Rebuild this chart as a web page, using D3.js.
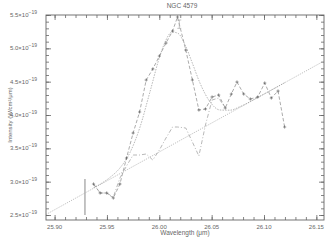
<!DOCTYPE html>
<meta charset="utf-8">
<script src="https://d3js.org/d3.v7.min.js"></script>
<style>
  body { margin: 0; background: #fff; }
  text { font-family: "Liberation Sans", sans-serif; fill: #666; }
</style>
<body>
<div id="chart"></div>
<script>

// wavelength (um) of the measured points
var wave = [25.9372, 25.9435, 25.9498, 25.9561, 25.9624, 25.9687, 25.9750, 25.9812,
            25.9875, 25.9938, 26.0001, 26.0064, 26.0127, 26.0174, 26.0253, 26.0316,
            26.0378, 26.0441, 26.0504, 26.0567, 26.0630, 26.0688, 26.0742, 26.0806,
            26.0869, 26.0940, 26.1007, 26.1070, 26.1134, 26.1197];
// observed intensity (x 1e-19 W/cm2/um)
var flux = [2.965, 2.83, 2.83, 2.755, 2.965, 3.355, 3.73, 4.045,
            4.525, 4.69, 4.885, 5.08, 5.26, 5.47, 4.975, 4.525,
            4.075, 4.09, 4.27, 4.30, 4.105, 4.315, 4.495, 4.315,
            4.24, 4.27, 4.48, 4.255, 4.36, 3.82];

// residual (data - line) on top of the continuum
var residWave = [25.9372, 25.9435, 25.9498, 25.9561, 25.9624, 25.9687, 25.9750, 25.9812,
                 25.9875, 25.9938, 26.0001, 26.0064, 26.0127, 26.0174, 26.0253, 26.0316,
                 26.0378, 26.0441, 26.0504, 26.0567, 26.0630];
var resid = [2.965, 2.83, 2.83, 2.77, 3.055, 3.235, 3.40, 3.40,
             3.415, 3.325, 3.475, 3.655, 3.82, 3.82, 3.805, 3.595,
             3.385, 3.85, 4.225, 4.255, 4.105];

// gaussian + continuum fit
var fitWave = [25.9372, 25.9529, 25.9623, 25.9720, 25.9816, 25.9911, 26.0007, 26.0064,
               26.0121, 26.0179, 26.0245, 26.0312, 26.0388, 26.0484, 26.0580, 26.0675,
               26.0771, 26.0962, 26.1197];
var fit = [2.909, 3.064, 3.203, 3.436, 3.82, 4.348, 4.891, 5.125,
           5.245, 5.225, 5.056, 4.793, 4.481, 4.198, 4.075, 4.072,
           4.126, 4.282, 4.484];

// straight continuum
var contWave = [25.8918, 26.1573];
var cont = [2.5075, 4.81];

// error bars [wavelength, low, high]
var errBars = [[25.929, 2.50, 3.04], [26.0191, 5.30, 5.425]];

// axis ticks
var xMajor = [25.90, 25.95, 26.00, 26.05, 26.10, 26.15];
var xMinor = d3.range(25.89, 26.16, 0.01).map(function(d){ return +d.toFixed(2); });
var yMajor = [2.5, 3.0, 3.5, 4.0, 4.5, 5.0, 5.5];
var yMinor = d3.range(2.5, 5.51, 0.1).map(function(d){ return +d.toFixed(1); });

var W = 333, H = 245;
var pLeft = 46, pRight = 324, pTop = 15, pBottom = 220;

var svg = d3.select("#chart").append("svg")
    .attr("width", W).attr("height", H);

var x = d3.scaleLinear().domain([25.8918, 26.1573]).range([pLeft, pRight]);
var y = d3.scaleLinear().domain([2.425, 5.5]).range([pBottom, pTop]);

// frame
svg.append("rect")
    .attr("x", pLeft).attr("y", pTop)
    .attr("width", pRight - pLeft).attr("height", pBottom - pTop)
    .attr("fill", "none").attr("stroke", "#666").attr("stroke-width", 0.9);

function tickAxis(axis, tr, vals, size) {
  svg.append("g")
    .attr("transform", tr)
    .call(axis.tickValues(vals).tickSize(size).tickSizeOuter(0).tickFormat(""))
    .call(function(g){ g.select(".domain").remove(); g.selectAll("line").attr("stroke", "#666").attr("stroke-width", 0.8); });
}
var xm = xMinor.filter(function(d){ return x(d) > pLeft && x(d) < pRight; });
tickAxis(d3.axisBottom(x), "translate(0," + pBottom + ")", xm, -3);
tickAxis(d3.axisBottom(x), "translate(0," + pBottom + ")", xMajor, -5);
tickAxis(d3.axisTop(x), "translate(0," + pTop + ")", xm, -3);
tickAxis(d3.axisTop(x), "translate(0," + pTop + ")", xMajor, -5);
tickAxis(d3.axisLeft(y), "translate(" + pLeft + ",0)", yMinor, -3);
tickAxis(d3.axisLeft(y), "translate(" + pLeft + ",0)", yMajor, -5);
tickAxis(d3.axisRight(y), "translate(" + pRight + ",0)", yMinor, -3);
tickAxis(d3.axisRight(y), "translate(" + pRight + ",0)", yMajor, -5);

// x tick labels
svg.selectAll(".xl").data(xMajor).enter().append("text")
    .attr("x", function(d){ return x(d); })
    .attr("y", 228.5)
    .attr("text-anchor", "middle")
    .style("font-size", "6px")
    .text(function(d){ return d.toFixed(2); });

// y tick labels with superscript exponent
var yl = svg.selectAll(".yl").data(yMajor).enter().append("text")
    .attr("x", 37)
    .attr("y", function(d){ return y(d) + 2; })
    .attr("text-anchor", "end")
    .style("font-size", "6px");
yl.append("tspan").text(function(d){ return d.toFixed(1) + "\u00d710"; });
yl.append("tspan").attr("dy", -3).style("font-size", "5px").text("\u221219");

// titles
svg.append("text").attr("x", 182).attr("y", 8).attr("text-anchor", "middle")
    .style("font-size", "6.5px").text("NGC 4579");
svg.append("text").attr("x", 185).attr("y", 235).attr("text-anchor", "middle")
    .style("font-size", "6.5px").text("Wavelength (\u03bcm)");
svg.append("text")
    .attr("transform", "translate(12,115) rotate(-90)")
    .attr("text-anchor", "middle")
    .style("font-size", "6px")
    .text("Intensity (W/cm\u00b2/\u03bcm)");

// lines
var line = d3.line().x(function(d){ return x(d[0]); }).y(function(d){ return y(d[1]); });
var plot = svg.append("g");

plot.append("path")
    .datum(d3.zip(contWave, cont))
    .attr("d", line)
    .attr("fill", "none").attr("stroke", "#999").attr("stroke-width", 0.7)
    .attr("stroke-dasharray", "1,1.2");

plot.append("path")
    .datum(d3.zip(fitWave, fit))
    .attr("d", line.curve(d3.curveMonotoneX))
    .attr("fill", "none").attr("stroke", "#999").attr("stroke-width", 0.7)
    .attr("stroke-dasharray", "1.5,1.2");
line.curve(d3.curveLinear);

plot.append("path")
    .datum(d3.zip(residWave, resid))
    .attr("d", line)
    .attr("fill", "none").attr("stroke", "#999").attr("stroke-width", 0.7)
    .attr("stroke-dasharray", "4,2,1,2");

plot.append("path")
    .datum(d3.zip(wave, flux))
    .attr("d", line)
    .attr("fill", "none").attr("stroke", "#888").attr("stroke-width", 0.7)
    .attr("stroke-dasharray", "3.5,2");

// + markers
var pts = d3.zip(wave, flux);
plot.selectAll(".pm").data(pts).enter().append("path")
    .attr("d", function(d){
      var px = x(d[0]), py = y(d[1]);
      return "M" + (px - 1.6) + "," + py + "h3.2M" + px + "," + (py - 1.6) + "v3.2";
    })
    .attr("stroke", "#555").attr("stroke-width", 0.6);

// error bars
errBars.forEach(function(e, i){
  plot.append("line")
      .attr("x1", x(e[0])).attr("x2", x(e[0]))
      .attr("y1", y(e[1])).attr("y2", y(e[2]))
      .attr("stroke", "#aaa").attr("stroke-width", i === 0 ? 1.4 : 0.7);
  if (i > 0) {
    [e[1], e[2]].forEach(function(v){
      plot.append("line")
          .attr("x1", x(e[0]) - 2).attr("x2", x(e[0]) + 2)
          .attr("y1", y(v)).attr("y2", y(v))
          .attr("stroke", "#aaa").attr("stroke-width", 0.7);
    });
  }
});

</script>
</body>
